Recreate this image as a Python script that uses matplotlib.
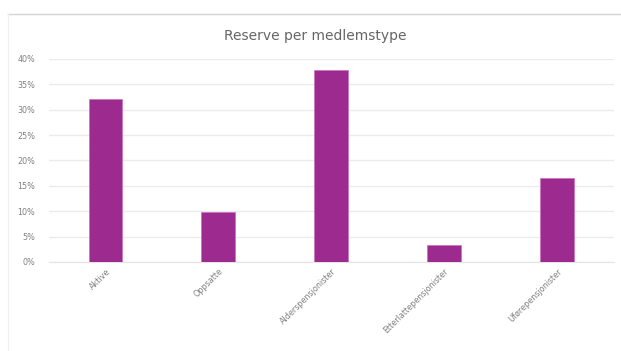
import matplotlib
matplotlib.use("Agg")
import matplotlib.pyplot as plt
from matplotlib.lines import Line2D
from matplotlib.ticker import PercentFormatter

categories = ['Aktive', 'Oppsatte', 'Alderspensjonister', 'Etterlattepensjonister', 'Uførepensjonister']
reserve = [32.1, 9.8, 37.8, 3.3, 16.5]
yticks = [0, 5, 10, 15, 20, 25, 30, 35, 40]

bar_color = '#9C2A8F'
text_color = '#808080'

fig = plt.figure(figsize=(6.21, 3.51), dpi=100)
ax = fig.add_axes([0.079, 0.2536, 0.909, 0.5784])

x = range(len(categories))
ax.bar(x, reserve, width=0.3, color=bar_color, edgecolor='#c86fc0', linewidth=0.5, zorder=3)

ax.set_ylim(0, 40)
ax.set_xlim(-0.5, len(categories) - 0.5)
ax.set_yticks(yticks)
ax.yaxis.set_major_formatter(PercentFormatter(decimals=0))
ax.grid(axis='y', color='#ebebeb', linewidth=1, zorder=0)
for s in ax.spines.values():
    s.set_visible(False)
ax.spines['bottom'].set_visible(True)
ax.spines['bottom'].set_color('#e4e4e4')
ax.tick_params(axis='both', length=0, labelsize=5.8, labelcolor=text_color)
ax.tick_params(axis='y', pad=10)

ax.set_xticks(list(x))
ax.set_xticklabels(categories, rotation=45, ha='right', rotation_mode='anchor')

fig.text(0.507, 0.897, 'Reserve per medlemstype', ha='center', va='center',
         fontsize=10, color='#666666')

# chart frame: top and left edges
fig.add_artist(Line2D([8 / 621, 1], [1 - 14 / 351, 1 - 14 / 351], transform=fig.transFigure,
                      color='#d4d4d4', linewidth=1))
fig.add_artist(Line2D([8 / 621, 8 / 621], [0, 1 - 14 / 351], transform=fig.transFigure,
                      color='#f0f0f0', linewidth=1))

fig.savefig('out.png', dpi=100)
